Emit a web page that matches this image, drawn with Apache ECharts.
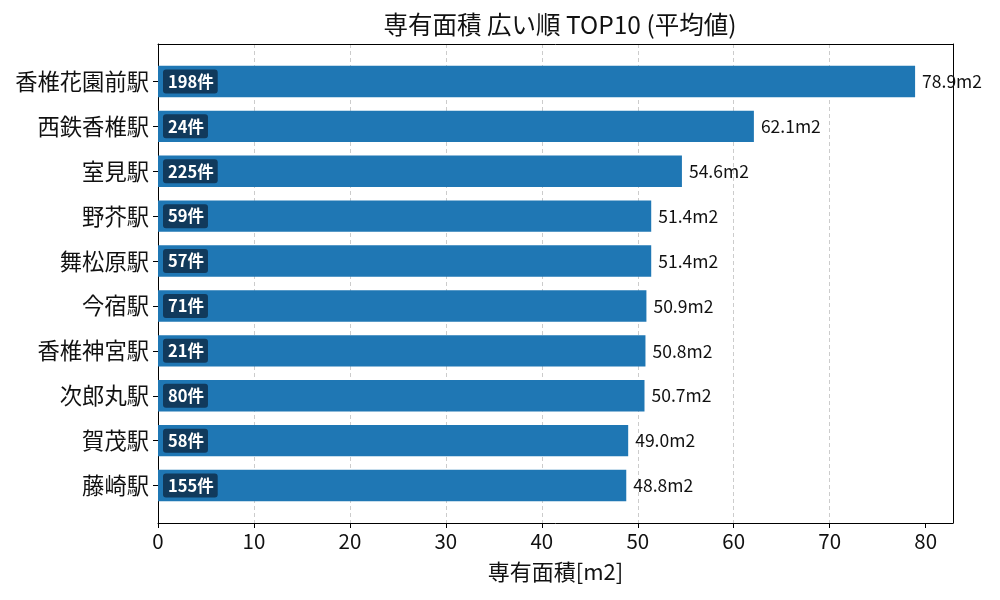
<!DOCTYPE html>
<html><head><meta charset="utf-8">
<script src="https://cdn.jsdelivr.net/npm/echarts@6/dist/echarts.min.js"></script>
<style>html,body{margin:0;padding:0;background:#fff}#c{width:1000px;height:600px}</style>
</head><body><div id="c"></div>
<script>
const categories = ['香椎花園前駅','西鉄香椎駅','室見駅','野芥駅','舞松原駅','今宿駅','香椎神宮駅','次郎丸駅','賀茂駅','藤崎駅'];
const areaValues = [78.9, 62.1, 54.6, 51.4, 51.4, 50.9, 50.8, 50.7, 49.0, 48.8];
const counts = [198, 24, 225, 59, 57, 71, 21, 80, 58, 155];
const xTicks = [0,10,20,30,40,50,60,70,80];

const FONT = '"Noto Sans CJK JP","Noto Sans",sans-serif';
const XMAX = 82.85;
const frameLine = {show: true, onZero: false, lineStyle: {color: '#000', width: 1}};
const chart = echarts.init(document.getElementById('c'));
chart.setOption({
  animation: false,
  title: {text: '専有面積 広い順 TOP10 (平均値)', left: 555, textAlign: 'center', top: 7,
    textStyle: {fontFamily: FONT, fontSize: 24.5, fontWeight: 'normal', color: '#111'}},
  grid: [
    {left: 158, right: 47, top: 44, bottom: 77},
    {left: 158, right: 47, top: 59, bottom: 92}
  ],
  xAxis: [
    {gridIndex: 0, type: 'value', min: 0, max: XMAX, interval: 10, position: 'bottom',
     name: '専有面積[m2]', nameLocation: 'middle', nameGap: 38,
     nameTextStyle: {fontFamily: FONT, fontSize: 22, color: '#111'},
     axisLine: frameLine,
     axisTick: {show: true, length: 5, lineStyle: {color: '#000'}, customValues: xTicks},
     axisLabel: {fontFamily: FONT, fontSize: 20.5, color: '#111', margin: 8, customValues: xTicks},
     splitLine: {show: true, showMinLine: false, showMaxLine: false, lineStyle: {type: [4,3], color: '#cccccc', width: 1}}},
    {gridIndex: 0, type: 'value', min: 0, max: XMAX, position: 'top',
     axisLine: frameLine,
     axisTick: {show: false}, axisLabel: {show: false}, splitLine: {show: false}},
    {gridIndex: 1, type: 'value', min: 0, max: XMAX, show: false}
  ],
  yAxis: [
    {gridIndex: 0, type: 'value', min: 0, max: 1, position: 'left',
     axisLine: frameLine,
     axisTick: {show: false}, axisLabel: {show: false}, splitLine: {show: false}},
    {gridIndex: 0, type: 'value', min: 0, max: 1, position: 'right',
     axisLine: frameLine,
     axisTick: {show: false}, axisLabel: {show: false}, splitLine: {show: false}},
    {gridIndex: 1, type: 'category', data: categories, inverse: true,
     axisLine: {show: false},
     axisTick: {show: true, alignWithLabel: true, length: 5, lineStyle: {color: '#000'}},
     axisLabel: {fontFamily: FONT, fontSize: 22.3, color: '#111', margin: 9}}
  ],
  series: [
    {type: 'bar', xAxisIndex: 2, yAxisIndex: 2, data: areaValues, barWidth: '70%',
     itemStyle: {color: '#1f77b4'},
     label: {show: true, position: 'insideLeft', distance: 5,
       formatter: p => counts[p.dataIndex] + '件',
       fontFamily: FONT, fontSize: 16.5, fontWeight: 'bold', color: '#fff', lineHeight: 18,
       backgroundColor: '#113a5c', padding: [4, 4, 2, 5], borderRadius: 3}},
    {type: 'bar', xAxisIndex: 2, yAxisIndex: 2, data: areaValues, barWidth: '70%', barGap: '-100%',
     itemStyle: {color: 'rgba(0,0,0,0)'}, silent: true,
     label: {show: true, position: 'right', distance: 7,
       formatter: p => p.value.toFixed(1) + 'm2',
       fontFamily: FONT, fontSize: 17.5, color: '#111'}}
  ]
});
</script></body></html>
